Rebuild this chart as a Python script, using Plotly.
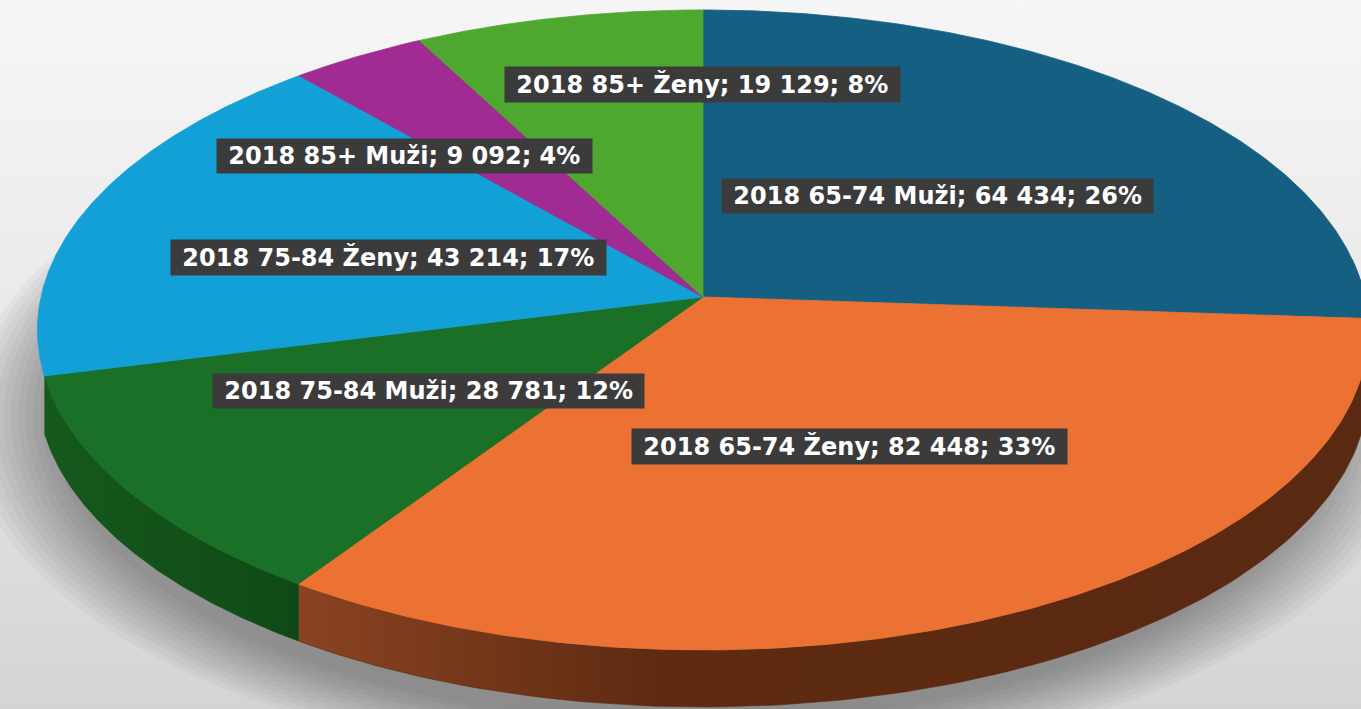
import numpy as np
import plotly.graph_objects as go

# ---------------- data ----------------
year = "2018"
age_groups = ["65-74", "65-74", "75-84", "75-84", "85+", "85+"]
sexes = ["Muži", "Ženy", "Muži", "Ženy", "Muži", "Ženy"]
values = [64434, 82448, 28781, 43214, 9092, 19129]

# ---------------- styles / layout ----------------
top_colors = ["#156082", "#EC7233", "#1B7027", "#12A0D7", "#A02B93", "#4EA72E"]
side_scales = [
    [[0, "#0C3A50"], [1, "#0A3346"]],
    [[0, "#8B4321"], [0.33, "#5E2B12"], [1, "#5A2911"]],
    [[0, "#15591D"], [1, "#0F4A16"]],
    [[0, "#0B6C93"], [1, "#095E80"]],
    [[0, "#6A1C61"], [1, "#5A1852"]],
    [[0, "#33701E"], [1, "#2C621A"]],
]
# label centres (pixel layout positions)
label_pos = [(937, 196), (849, 446), (428, 391), (388, 257), (404, 156), (702, 84)]

W, Hh = 1361, 709
CX, CY = 703.0, 297.0   # pie apex on screen
A, B, K = 662.0, 316.6, 0.103  # perspective ellipse parameters
DEPTH = 57.0


def proj(theta, r=1.0):
    X = r * np.sin(theta)
    Z = r * np.cos(theta)
    d = 1 + K * Z
    return CX + A * X / d, CY - B * Z / d


total = sum(values)
fr = np.array(values) / total
cum = np.concatenate([[0], np.cumsum(fr)]) * 2 * np.pi

fig = go.Figure()

# background gradient
fig.add_trace(go.Scatter(
    x=[0, W, W, 0, 0], y=[0, 0, Hh, Hh, 0], mode="lines", fill="toself",
    line=dict(width=0), hoverinfo="skip", showlegend=False,
    fillgradient=dict(type="vertical", start=0, stop=Hh,
                      colorscale=[[0, "#f6f6f6"], [0.4, "#ebebeb"], [1, "#d4d4d4"]]),
))

# soft shadow under the pie
tt = np.linspace(0, 2 * np.pi, 240)
for i in range(12):
    r = 0.97 + 0.011 * i
    sx, sy = proj(tt, r)
    fig.add_trace(go.Scatter(
        x=sx - 10, y=sy + DEPTH + 28, mode="lines", fill="toself",
        fillcolor="rgba(0,0,0,0.03)", line=dict(width=0),
        hoverinfo="skip", showlegend=False,
    ))

# side faces (visible front part only)
lo, hi = np.pi / 2 - 0.12, 3 * np.pi / 2 - 0.25
for i in range(len(values)):
    a0, a1 = max(cum[i], lo), min(cum[i + 1], hi)
    if a1 <= a0:
        continue
    t = np.linspace(a0, a1, 120)
    x, y = proj(t)
    px = np.concatenate([x, x[::-1], x[:1]])
    py = np.concatenate([y, (y + DEPTH)[::-1], y[:1]])
    fig.add_trace(go.Scatter(
        x=px, y=py, mode="lines", fill="toself",
        line=dict(width=0.6, color=side_scales[i][-1][1]),
        fillgradient=dict(type="horizontal", colorscale=side_scales[i]),
        hoverinfo="skip", showlegend=False,
    ))

# top faces
for i in range(len(values)):
    t = np.linspace(cum[i], cum[i + 1], 200)
    x, y = proj(t)
    px = np.concatenate([[CX], x, [CX]])
    py = np.concatenate([[CY], y, [CY]])
    fig.add_trace(go.Scatter(
        x=px, y=py, mode="lines", fill="toself", fillcolor=top_colors[i],
        line=dict(width=0.8, color=top_colors[i]),
        name=f"{year} {age_groups[i]} {sexes[i]}", hoverinfo="name",
        showlegend=False,
    ))

# data labels
annotations = []
for i, v in enumerate(values):
    pct = round(v / total * 100)
    txt = f"{year} {age_groups[i]} {sexes[i]}; {v:,}; {pct}%".replace(",", " ")
    lx, ly = label_pos[i]
    annotations.append(dict(
        x=lx, y=ly, xref="x", yref="y", text=" " + txt + " ", showarrow=False,
        font=dict(family="DejaVu Sans", size=24, color="white", weight="bold"),
        bgcolor="#3B3B3B", borderpad=3,
    ))

fig.update_layout(
    width=W, height=Hh, margin=dict(l=0, r=0, t=0, b=0),
    paper_bgcolor="#eeeeee", plot_bgcolor="#eeeeee",
    xaxis=dict(range=[0, W], visible=False, fixedrange=True),
    yaxis=dict(range=[Hh, 0], visible=False, fixedrange=True),
    annotations=annotations, showlegend=False,
)

fig.write_html("out.html", config={"displayModeBar": False},
               post_script="document.body.style.margin='0';document.body.style.overflow='hidden';")
